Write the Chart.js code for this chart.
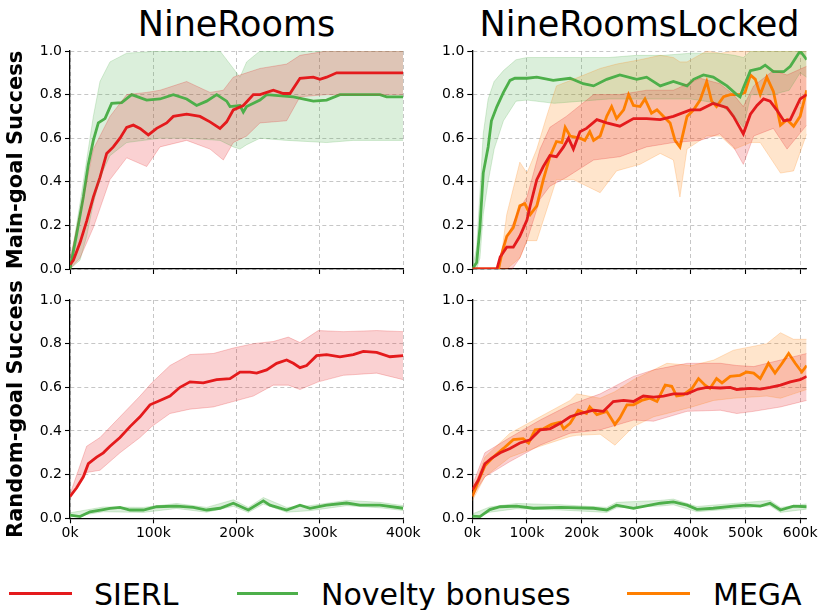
<!DOCTYPE html>
<html><head><meta charset="utf-8">
<script src="https://cdn.jsdelivr.net/npm/chart.js@4.4.1/dist/chart.umd.min.js"></script>
<style>
html,body{margin:0;padding:0;background:#fff;}
#wrap{position:relative;width:819px;height:610px;overflow:hidden;font-family:"DejaVu Sans",sans-serif;color:#000;}
canvas{position:absolute;}
.title{position:absolute;top:4px;font-size:35px;line-height:40px;text-align:center;white-space:nowrap;}
.legline{position:absolute;top:592px;height:3px;}
.legtext{position:absolute;top:577.6px;font-size:30px;line-height:34px;white-space:nowrap;}
</style></head>
<body>
<div id="wrap">
  <div class="title" style="left:70px;width:333px;">NineRooms</div>
  <div class="title" style="left:472px;width:335px;">NineRoomsLocked</div>
  <canvas id="cTL" width="415" height="240" style="left:0;top:40px;"></canvas>
  <canvas id="cTR" width="404" height="240" style="left:415px;top:40px;"></canvas>
  <canvas id="cBL" width="430" height="272" style="left:0;top:278px;"></canvas>
  <canvas id="cBR" width="404" height="272" style="left:415px;top:278px;"></canvas>
  <div class="legline" style="left:9px;width:63px;background:#e41a1c;"></div>
  <div class="legtext" style="left:94px;">SIERL</div>
  <div class="legline" style="left:237px;width:61px;background:#4daf4a;"></div>
  <div class="legtext" style="left:321px;">Novelty bonuses</div>
  <div class="legline" style="left:627px;width:63px;background:#ff7f00;"></div>
  <div class="legtext" style="left:713px;">MEGA</div>
</div>
<script>
// ---------- tick labels ----------
const yTicks = [0, 0.2, 0.4, 0.6, 0.8, 1.0];
const yTickLabels = ['0.0', '0.2', '0.4', '0.6', '0.8', '1.0'];
const xTicksNR = [0, 100, 200, 300, 400];
const xTickLabelsNR = ['0k', '100k', '200k', '300k', '400k'];
const xTicksNRL = [0, 100, 200, 300, 400, 500, 600];
const xTickLabelsNRL = ['0k', '100k', '200k', '300k', '400k', '500k', '600k'];

// ---------- NineRooms, main-goal success (x in thousands of steps) ----------
const nrMainSierlX    = [0, 4, 12, 20, 28, 36, 44, 52, 60, 68, 76, 84, 94, 104, 116, 124, 140, 156, 168, 180, 188, 196, 208, 220, 228, 244, 256, 264, 276, 292, 300, 308, 320, 400];
const nrMainSierlMean = [0.02, 0.04, 0.12, 0.22, 0.33, 0.42, 0.53, 0.56, 0.60, 0.65, 0.66, 0.645, 0.615, 0.645, 0.67, 0.70, 0.71, 0.70, 0.675, 0.645, 0.675, 0.73, 0.75, 0.80, 0.80, 0.82, 0.805, 0.805, 0.875, 0.88, 0.87, 0.88, 0.90, 0.90];
const nrMainSierlBandX = [0, 12, 28, 48, 68, 92, 108, 140, 168, 184, 196, 212, 228, 260, 276, 308, 400];
const nrMainSierlLo    = [0.0, 0.05, 0.19, 0.41, 0.51, 0.47, 0.56, 0.59, 0.55, 0.50, 0.58, 0.61, 0.67, 0.68, 0.79, 0.80, 0.80];
const nrMainSierlHi    = [0.05, 0.25, 0.55, 0.70, 0.80, 0.81, 0.82, 0.86, 0.81, 0.82, 0.88, 0.90, 0.92, 0.94, 0.98, 1.0, 1.0];

const nrMainNovX    = [0, 8, 16, 22, 28, 34, 42, 50, 62, 74, 92, 108, 124, 140, 152, 164, 176, 188, 192, 204, 208, 212, 228, 236, 268, 292, 308, 324, 372, 380, 400];
const nrMainNovMean = [0.0, 0.16, 0.33, 0.48, 0.59, 0.67, 0.69, 0.76, 0.763, 0.80, 0.775, 0.78, 0.80, 0.78, 0.75, 0.77, 0.80, 0.77, 0.745, 0.75, 0.72, 0.745, 0.775, 0.80, 0.79, 0.77, 0.775, 0.80, 0.80, 0.79, 0.79];
const nrMainNovBandX = [0, 12, 20, 28, 36, 48, 68, 108, 140, 180, 196, 204, 212, 228, 260, 308, 340, 400];
const nrMainNovLo    = [0.0, 0.04, 0.15, 0.30, 0.42, 0.52, 0.58, 0.60, 0.60, 0.59, 0.56, 0.55, 0.57, 0.60, 0.59, 0.58, 0.59, 0.59];
const nrMainNovHi    = [0.02, 0.30, 0.50, 0.70, 0.86, 0.95, 0.99, 1.0, 1.0, 1.0, 0.92, 0.88, 0.95, 1.0, 1.0, 1.0, 1.0, 1.0];

// ---------- NineRoomsLocked, main-goal success ----------
const nrlMainNovX    = [0, 8, 14, 20, 29, 35, 45, 57, 69, 78, 100, 118, 148, 179, 203, 222, 246, 270, 301, 319, 344, 368, 393, 405, 423, 441, 466, 484, 490, 496, 509, 527, 536, 551, 570, 582, 600, 612];
const nrlMainNovMean = [0.0, 0.03, 0.19, 0.44, 0.56, 0.68, 0.745, 0.81, 0.865, 0.875, 0.875, 0.88, 0.865, 0.875, 0.85, 0.84, 0.87, 0.89, 0.87, 0.88, 0.84, 0.86, 0.84, 0.87, 0.89, 0.88, 0.84, 0.80, 0.79, 0.83, 0.91, 0.92, 0.935, 0.905, 0.905, 0.93, 1.0, 0.96];
const nrlMainNovBandX = [0, 8, 14, 20, 29, 40, 57, 80, 100, 150, 200, 250, 300, 350, 400, 450, 480, 496, 510, 550, 580, 600, 612];
const nrlMainNovLo    = [0.0, 0.0, 0.05, 0.25, 0.40, 0.55, 0.68, 0.77, 0.775, 0.76, 0.77, 0.78, 0.78, 0.78, 0.78, 0.76, 0.70, 0.65, 0.80, 0.80, 0.82, 0.90, 0.88];
const nrlMainNovHi    = [0.0, 0.10, 0.35, 0.62, 0.78, 0.86, 0.91, 0.96, 0.97, 0.97, 0.97, 0.97, 0.98, 0.98, 0.99, 0.99, 0.98, 0.97, 1.0, 1.0, 1.0, 1.0, 1.0];

const nrlMainSierlX    = [0, 45, 51, 63, 75, 87, 100, 106, 118, 130, 142, 154, 167, 176, 185, 197, 209, 228, 246, 270, 295, 319, 344, 368, 399, 417, 441, 466, 478, 496, 509, 521, 533, 545, 557, 570, 582, 600, 612];
const nrlMainSierlMean = [0, 0, 0.055, 0.10, 0.10, 0.15, 0.225, 0.29, 0.41, 0.47, 0.52, 0.515, 0.56, 0.60, 0.55, 0.63, 0.645, 0.685, 0.67, 0.655, 0.69, 0.69, 0.685, 0.70, 0.73, 0.73, 0.76, 0.74, 0.70, 0.62, 0.71, 0.75, 0.78, 0.77, 0.73, 0.68, 0.685, 0.78, 0.80];
const nrlMainSierlBandX = [0, 45, 55, 73, 87, 100, 124, 142, 172, 222, 270, 319, 368, 417, 453, 478, 496, 515, 551, 576, 612];
const nrlMainSierlLo    = [0, 0, 0, 0, 0.05, 0.13, 0.32, 0.38, 0.42, 0.50, 0.515, 0.56, 0.58, 0.59, 0.62, 0.56, 0.48, 0.61, 0.645, 0.55, 0.66];
const nrlMainSierlHi    = [0, 0, 0.10, 0.20, 0.28, 0.33, 0.55, 0.65, 0.70, 0.80, 0.80, 0.82, 0.82, 0.875, 0.85, 0.80, 0.745, 0.84, 0.91, 0.89, 0.93];

const nrlMainMegaX    = [0, 48, 54, 63, 75, 87, 96, 106, 118, 130, 142, 154, 164, 170, 179, 188, 197, 206, 215, 222, 234, 246, 255, 264, 277, 286, 295, 307, 316, 328, 338, 350, 362, 371, 380, 393, 405, 417, 429, 438, 447, 460, 472, 490, 499, 509, 518, 527, 539, 551, 564, 576, 588, 600, 612];
const nrlMainMegaMean = [0, 0, 0.07, 0.15, 0.19, 0.29, 0.30, 0.25, 0.29, 0.41, 0.515, 0.585, 0.58, 0.65, 0.61, 0.605, 0.60, 0.59, 0.63, 0.59, 0.61, 0.70, 0.745, 0.69, 0.73, 0.80, 0.75, 0.745, 0.78, 0.715, 0.73, 0.70, 0.67, 0.59, 0.56, 0.70, 0.73, 0.775, 0.86, 0.77, 0.745, 0.79, 0.80, 0.80, 0.81, 0.89, 0.87, 0.80, 0.88, 0.815, 0.66, 0.685, 0.655, 0.70, 0.82];
const nrlMainMegaBandX = [0, 50, 63, 87, 100, 118, 136, 154, 185, 234, 264, 307, 344, 368, 380, 393, 429, 454, 480, 509, 527, 564, 588, 612];
const nrlMainMegaLo    = [0, 0, 0, 0.05, 0.13, 0.13, 0.27, 0.41, 0.41, 0.35, 0.45, 0.48, 0.53, 0.50, 0.33, 0.55, 0.61, 0.61, 0.55, 0.58, 0.58, 0.44, 0.45, 0.62];
const nrlMainMegaHi    = [0, 0, 0.25, 0.49, 0.44, 0.55, 0.70, 0.84, 0.87, 0.92, 0.94, 0.96, 0.98, 0.97, 0.95, 0.95, 1.0, 0.99, 1.0, 1.0, 1.0, 1.0, 1.0, 1.0];

// ---------- NineRooms, random-goal success ----------
const nrRndSierlX    = [0, 8, 16, 22, 32, 40, 48, 60, 72, 84, 96, 108, 120, 132, 144, 160, 176, 192, 204, 216, 224, 236, 248, 260, 268, 276, 284, 296, 308, 324, 340, 352, 368, 384, 400];
const nrRndSierlMean = [0.10, 0.14, 0.19, 0.25, 0.28, 0.30, 0.33, 0.37, 0.42, 0.465, 0.52, 0.54, 0.56, 0.60, 0.625, 0.62, 0.635, 0.64, 0.67, 0.67, 0.665, 0.68, 0.71, 0.725, 0.71, 0.69, 0.70, 0.745, 0.75, 0.74, 0.75, 0.765, 0.76, 0.74, 0.745];
const nrRndSierlBandX = [0, 20, 36, 60, 84, 98, 120, 144, 172, 196, 220, 244, 262, 276, 298, 328, 368, 400];
const nrRndSierlLo    = [0.09, 0.21, 0.22, 0.30, 0.37, 0.42, 0.48, 0.50, 0.51, 0.535, 0.56, 0.61, 0.61, 0.59, 0.625, 0.655, 0.665, 0.635];
const nrRndSierlHi    = [0.11, 0.33, 0.37, 0.465, 0.56, 0.62, 0.70, 0.75, 0.755, 0.78, 0.80, 0.81, 0.83, 0.805, 0.86, 0.855, 0.86, 0.855];

const nrRndNovX    = [0, 12, 24, 40, 48, 60, 72, 88, 104, 128, 148, 164, 180, 196, 214, 232, 240, 260, 276, 288, 308, 332, 348, 372, 400];
const nrRndNovMean = [0.015, 0.008, 0.03, 0.04, 0.045, 0.05, 0.038, 0.038, 0.053, 0.056, 0.05, 0.038, 0.046, 0.069, 0.038, 0.08, 0.06, 0.038, 0.06, 0.046, 0.06, 0.07, 0.06, 0.06, 0.046];
const nrRndNovBandX = [0, 40, 88, 128, 164, 196, 214, 232, 260, 288, 332, 372, 400];
const nrRndNovLo    = [0.005, 0.03, 0.027, 0.045, 0.028, 0.055, 0.027, 0.065, 0.028, 0.035, 0.058, 0.048, 0.036];
const nrRndNovHi    = [0.025, 0.052, 0.05, 0.068, 0.05, 0.085, 0.05, 0.095, 0.05, 0.058, 0.082, 0.073, 0.058];

// ---------- NineRoomsLocked, random-goal success ----------
const nrlRndSierlX    = [0, 11, 23, 35, 51, 69, 87, 106, 124, 142, 161, 179, 197, 222, 240, 258, 277, 295, 313, 332, 350, 368, 393, 411, 429, 454, 472, 484, 509, 527, 545, 564, 582, 600, 612];
const nrlRndSierlMean = [0.13, 0.175, 0.25, 0.275, 0.30, 0.32, 0.345, 0.36, 0.405, 0.41, 0.435, 0.465, 0.48, 0.495, 0.49, 0.535, 0.54, 0.535, 0.56, 0.555, 0.56, 0.57, 0.57, 0.59, 0.60, 0.597, 0.60, 0.59, 0.595, 0.592, 0.60, 0.61, 0.625, 0.635, 0.65];
const nrlRndSierlBandX = [0, 23, 69, 124, 179, 234, 295, 332, 393, 454, 484, 515, 564, 612];
const nrlRndSierlLo    = [0.10, 0.19, 0.26, 0.335, 0.39, 0.405, 0.45, 0.445, 0.49, 0.495, 0.48, 0.49, 0.51, 0.54];
const nrlRndSierlHi    = [0.15, 0.30, 0.37, 0.45, 0.52, 0.57, 0.65, 0.68, 0.71, 0.71, 0.70, 0.695, 0.725, 0.755];

const nrlRndMegaX    = [0, 11, 23, 38, 57, 75, 93, 103, 115, 130, 145, 161, 167, 179, 194, 209, 215, 228, 246, 261, 270, 283, 295, 310, 325, 338, 353, 365, 374, 386, 402, 414, 426, 435, 447, 457, 472, 490, 502, 515, 527, 542, 554, 567, 579, 591, 603, 612];
const nrlRndMegaMean = [0.10, 0.17, 0.24, 0.28, 0.32, 0.36, 0.365, 0.345, 0.405, 0.41, 0.43, 0.44, 0.41, 0.435, 0.495, 0.48, 0.51, 0.475, 0.49, 0.43, 0.46, 0.52, 0.52, 0.54, 0.55, 0.535, 0.61, 0.605, 0.56, 0.565, 0.595, 0.64, 0.61, 0.595, 0.64, 0.62, 0.65, 0.655, 0.67, 0.665, 0.64, 0.71, 0.665, 0.71, 0.755, 0.71, 0.67, 0.70];
const nrlRndMegaBandX = [0, 23, 69, 124, 179, 191, 234, 261, 295, 332, 356, 402, 442, 478, 539, 564, 588, 612];
const nrlRndMegaLo    = [0.08, 0.19, 0.28, 0.33, 0.375, 0.38, 0.385, 0.335, 0.42, 0.465, 0.48, 0.51, 0.54, 0.55, 0.56, 0.55, 0.57, 0.59];
const nrlRndMegaHi    = [0.12, 0.28, 0.39, 0.465, 0.54, 0.57, 0.55, 0.58, 0.635, 0.68, 0.71, 0.70, 0.725, 0.77, 0.80, 0.85, 0.82, 0.82];

const nrlRndNovX    = [0, 14, 32, 51, 81, 112, 161, 222, 246, 264, 295, 344, 368, 393, 411, 441, 478, 502, 527, 545, 564, 588, 612];
const nrlRndNovMean = [0.01, 0.008, 0.04, 0.053, 0.056, 0.046, 0.05, 0.046, 0.038, 0.06, 0.046, 0.069, 0.075, 0.06, 0.041, 0.046, 0.056, 0.06, 0.056, 0.069, 0.038, 0.056, 0.053];
const nrlRndNovBandX = [0, 32, 81, 161, 246, 264, 344, 368, 411, 478, 545, 564, 612];
const nrlRndNovLo    = [0.0, 0.028, 0.044, 0.038, 0.027, 0.048, 0.056, 0.062, 0.03, 0.044, 0.057, 0.027, 0.042];
const nrlRndNovHi    = [0.02, 0.052, 0.068, 0.062, 0.05, 0.073, 0.082, 0.088, 0.054, 0.068, 0.082, 0.05, 0.066];

// ---------- styling ----------
const COLORS = { sierl: [228, 26, 28], nov: [77, 175, 74], mega: [255, 127, 0] };
const FONT = "'DejaVu Sans', sans-serif";
const rgba = (c, a) => `rgba(${c[0]},${c[1]},${c[2]},${a})`;
const pts = (xs, ys) => xs.map((x, i) => ({ x: x, y: ys[i] }));

function seriesDatasets(color, lineX, mean, bandX, lo, hi) {
  return {
    band: [
      { data: pts(bandX, lo), borderColor: rgba(color, 0.28), borderWidth: 0.8, pointRadius: 0, fill: false, tension: 0 },
      { data: pts(bandX, hi), borderColor: rgba(color, 0.28), borderWidth: 0.8, pointRadius: 0, fill: '-1', backgroundColor: rgba(color, 0.2), tension: 0 }
    ],
    line: { data: pts(lineX, mean), borderColor: rgba(color, 1), borderWidth: 2.8, pointRadius: 0, fill: false, tension: 0 }
  };
}

function makeChart(id, o) {
  const series = o.series;
  const datasets = [];
  series.forEach(s => datasets.push(...s.band));
  series.forEach(s => datasets.push(s.line));
  return new Chart(document.getElementById(id), {
    type: 'line',
    data: { datasets: datasets },
    options: {
      responsive: false, animation: false, events: [],
      layout: { padding: { left: 0, top: o.padTop, right: o.padRight, bottom: 0 } },
      plugins: { legend: { display: false }, tooltip: { enabled: false }, filler: { drawTime: 'beforeDatasetsDraw' } },
      scales: {
        x: {
          type: 'linear', min: 0, max: o.xMax,
          afterBuildTicks: s => { s.ticks = o.xTicks.map(v => ({ value: v })); },
          ticks: { display: o.showXLabels, color: '#000', font: { family: FONT, size: 14 }, padding: 2, maxRotation: 0, autoSkip: false,
                   callback: (v, i) => o.xTickLabels[i] },
          grid: { color: '#b8b8b8', lineWidth: 0.8, tickLength: 5, tickColor: '#000', tickWidth: 1.1, tickBorderDash: [] },
          border: { display: true, color: '#000', width: 1.3, dash: [4, 3] },
          afterFit: s => { s.height = o.xAxisH; s.paddingLeft = 0; s.paddingRight = 0; }
        },
        y: {
          type: 'linear', min: 0, max: 1,
          afterBuildTicks: s => { s.ticks = yTicks.map(v => ({ value: v })); },
          ticks: { color: '#000', font: { family: FONT, size: 14 }, padding: 3, callback: (v, i) => yTickLabels[i] },
          grid: { color: '#b8b8b8', lineWidth: 0.8, tickLength: 5, tickColor: '#000', tickWidth: 1.1, tickBorderDash: [] },
          border: { display: true, color: '#000', width: 1.3, dash: [4, 3] },
          title: { display: !!o.yTitle, text: o.yTitle || '', color: '#000', font: { family: FONT, size: 21, weight: 'bold' }, padding: { top: 4, bottom: 0 } },
          afterFit: s => { s.width = o.yAxisW; s.paddingTop = 0; s.paddingBottom = 0; }
        }
      }
    }
  });
}

makeChart('cTL', {
  padTop: 11, padRight: 11.7, xAxisH: 11, yAxisW: 70, xMax: 400, xTicks: xTicksNR, xTickLabels: xTickLabelsNR, showXLabels: false,
  yTitle: 'Main-goal Success',
  series: [
    seriesDatasets(COLORS.sierl, nrMainSierlX, nrMainSierlMean, nrMainSierlBandX, nrMainSierlLo, nrMainSierlHi),
    seriesDatasets(COLORS.nov, nrMainNovX, nrMainNovMean, nrMainNovBandX, nrMainNovLo, nrMainNovHi)
  ]
});
makeChart('cTR', {
  padTop: 11, padRight: 12.3, xAxisH: 11, yAxisW: 57.3, xMax: 612, xTicks: xTicksNRL, xTickLabels: xTickLabelsNRL, showXLabels: false,
  yTitle: '',
  series: [
    seriesDatasets(COLORS.sierl, nrlMainSierlX, nrlMainSierlMean, nrlMainSierlBandX, nrlMainSierlLo, nrlMainSierlHi),
    seriesDatasets(COLORS.nov, nrlMainNovX, nrlMainNovMean, nrlMainNovBandX, nrlMainNovLo, nrlMainNovHi),
    seriesDatasets(COLORS.mega, nrlMainMegaX, nrlMainMegaMean, nrlMainMegaBandX, nrlMainMegaLo, nrlMainMegaHi)
  ]
});
makeChart('cBL', {
  padTop: 22, padRight: 26.7, xAxisH: 31.7, yAxisW: 70, xMax: 400, xTicks: xTicksNR, xTickLabels: xTickLabelsNR, showXLabels: true,
  yTitle: 'Random-goal Success',
  series: [
    seriesDatasets(COLORS.sierl, nrRndSierlX, nrRndSierlMean, nrRndSierlBandX, nrRndSierlLo, nrRndSierlHi),
    seriesDatasets(COLORS.nov, nrRndNovX, nrRndNovMean, nrRndNovBandX, nrRndNovLo, nrRndNovHi)
  ]
});
makeChart('cBR', {
  padTop: 22, padRight: 12.3, xAxisH: 31.7, yAxisW: 57.3, xMax: 612, xTicks: xTicksNRL, xTickLabels: xTickLabelsNRL, showXLabels: true,
  yTitle: '',
  series: [
    seriesDatasets(COLORS.sierl, nrlRndSierlX, nrlRndSierlMean, nrlRndSierlBandX, nrlRndSierlLo, nrlRndSierlHi),
    seriesDatasets(COLORS.nov, nrlRndNovX, nrlRndNovMean, nrlRndNovBandX, nrlRndNovLo, nrlRndNovHi),
    seriesDatasets(COLORS.mega, nrlRndMegaX, nrlRndMegaMean, nrlRndMegaBandX, nrlRndMegaLo, nrlRndMegaHi)
  ]
});
</script>
</body></html>
